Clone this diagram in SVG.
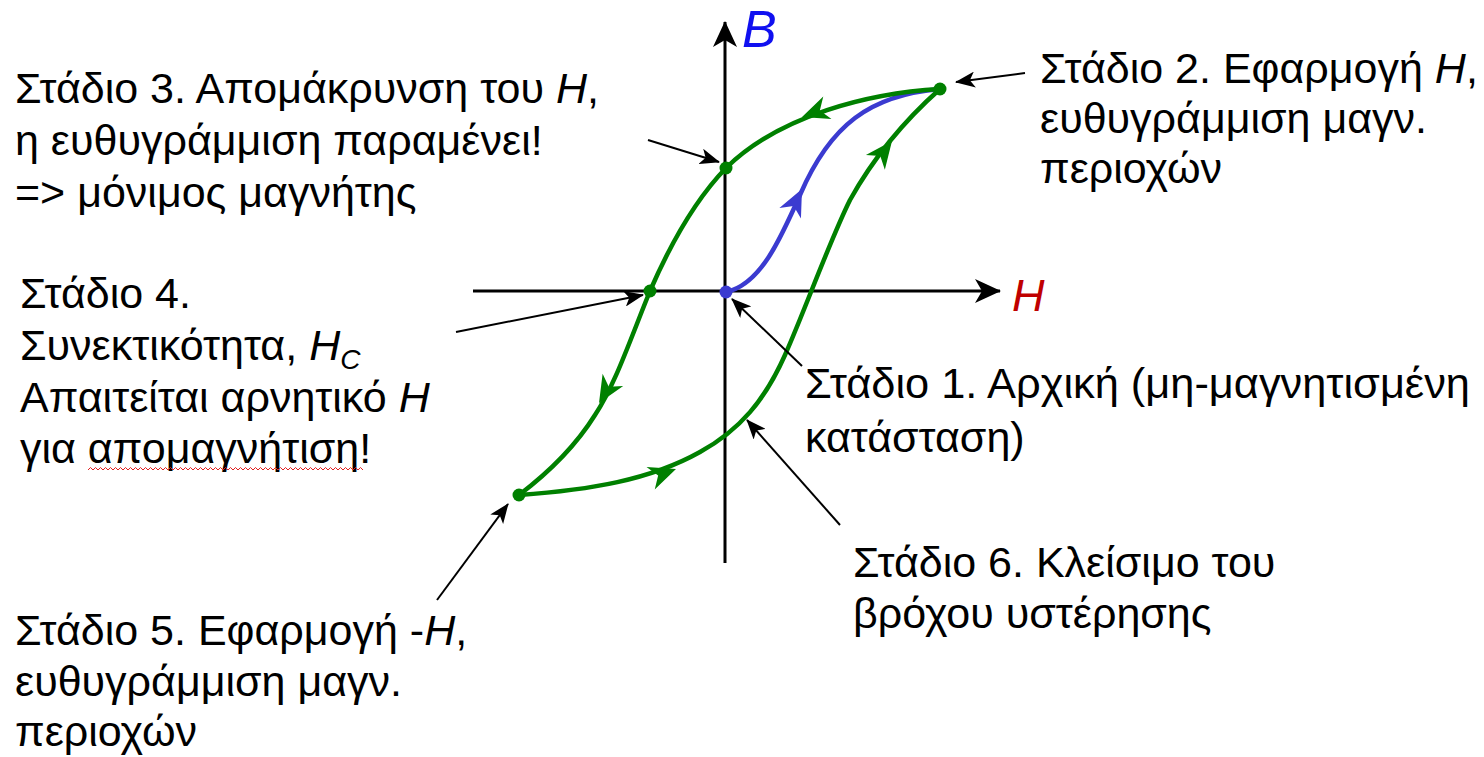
<svg xmlns="http://www.w3.org/2000/svg" width="1484" height="757" viewBox="0 0 1484 757">
<style>
text{font-family:"Liberation Sans",Arial,sans-serif;font-size:43px;fill:#000}
.it{font-style:italic}
.axis{stroke:#000;stroke-width:3;fill:none}
.ptr{stroke:#000;stroke-width:2;fill:none}
.g{stroke:#008000;stroke-width:4.5;fill:none;stroke-linecap:round}
.b{stroke:#3b3bd0;stroke-width:4.5;fill:none;stroke-linecap:round}
</style>
<defs>
<marker id="ah" viewBox="0 0 20 16" refX="19" refY="8" markerWidth="20" markerHeight="16" markerUnits="userSpaceOnUse" orient="auto">
<path d="M20,8 L0,0 L5,8 L0,16 Z" fill="#000"/>
</marker>
<marker id="axh" viewBox="0 0 26 24" refX="25" refY="12" markerWidth="26" markerHeight="24" markerUnits="userSpaceOnUse" orient="auto">
<path d="M26,12 L0,0 L7,12 L0,24 Z" fill="#000"/>
</marker>
<path id="garr" d="M0,0 L-27,-12 L-19,0 L-27,12 Z" fill="#008000"/>
<path id="barr" d="M0,0 L-27,-12 L-19,0 L-27,12 Z" fill="#3b3bd0"/>
<clipPath id="wclip"><rect x="86" y="460" width="277" height="20"/></clipPath>
</defs>

<g id="axes">
<line class="axis" x1="725" y1="563" x2="725" y2="22" marker-end="url(#axh)"/>
<line class="axis" x1="473" y1="291" x2="1000" y2="291" marker-end="url(#axh)"/>
<text x="742" y="47" class="it" style="fill:#1010f0;font-size:52px">B</text>
<text x="1012" y="311" class="it" style="fill:#c00000;font-size:45px">H</text>
</g>

<g id="curves">
<path class="b" d="M726,292 C760,285 780,240 800,195 C830,125 870,95 940,89"/>
<use href="#barr" transform="translate(802,189) rotate(-64)"/>
<path class="g" d="M940,89 C870,93 780,115 726,168 C695,200 670,245 650,291 C630,340 615,385 595,415 C575,447 548,473 519,495"/>
<path class="g" d="M519,495 C590,490 650,480 700,452 C740,430 765,400 785,355 C805,310 830,240 850,200 C875,155 905,120 940,89"/>
<use href="#garr" transform="translate(802,117) rotate(160)"/>
<use href="#garr" transform="translate(599,403) rotate(121)"/>
<use href="#garr" transform="translate(676,469) rotate(-20)"/>
<use href="#garr" transform="translate(892,141) rotate(-52)"/>
</g>

<g id="points">
<circle cx="940" cy="89" r="6.5" fill="#008000"/>
<circle cx="726" cy="168" r="6.5" fill="#008000"/>
<circle cx="650" cy="291" r="6.5" fill="#008000"/>
<circle cx="519" cy="495" r="6.5" fill="#008000"/>
<circle cx="726" cy="292" r="6.5" fill="#3b3bd0"/>
</g>

<g id="connectors">
<line class="ptr" x1="1025" y1="73" x2="956" y2="82" marker-end="url(#ah)"/>
<line class="ptr" x1="648" y1="140" x2="719" y2="162" stroke-width="1.6" marker-end="url(#ah)"/>
<line class="ptr" x1="456" y1="332" x2="643" y2="295" stroke-width="1.6" marker-end="url(#ah)"/>
<line class="ptr" x1="802" y1="366" x2="732" y2="299" marker-end="url(#ah)"/>
<line class="ptr" x1="840" y1="525" x2="747" y2="420" stroke-width="2.5" marker-end="url(#ah)"/>
<line class="ptr" x1="437" y1="600" x2="508" y2="504" stroke-width="2.5" marker-end="url(#ah)"/>
</g>

<g id="stage3">
<text x="15" y="103">Στάδιο 3. Απομάκρυνση του <tspan class="it">H</tspan>,</text>
<text x="15" y="155">η ευθυγράμμιση παραμένει!</text>
<text x="15" y="207">=&gt; μόνιμος μαγνήτης</text>
</g>

<g id="stage2">
<text x="1040" y="83">Στάδιο 2. Εφαρμογή <tspan class="it">H</tspan>,</text>
<text x="1040" y="133">ευθυγράμμιση μαγν.</text>
<text x="1040" y="183">περιοχών</text>
</g>

<g id="stage4">
<text x="20" y="308">Στάδιο 4.</text>
<text x="20" y="360">Συνεκτικότητα, <tspan class="it">H</tspan><tspan class="it" dy="9" style="font-size:28px">C</tspan></text>
<text x="20" y="412">Απαιτείται αρνητικό <tspan class="it">H</tspan></text>
<text x="20" y="463">για απομαγνήτιση!</text>
<path clip-path="url(#wclip)" d="M88,470 l2.5,-2.5 l2.5,2.5 l2.5,-2.5 l2.5,2.5 l2.5,-2.5 l2.5,2.5 l2.5,-2.5 l2.5,2.5 l2.5,-2.5 l2.5,2.5 l2.5,-2.5 l2.5,2.5 l2.5,-2.5 l2.5,2.5 l2.5,-2.5 l2.5,2.5 l2.5,-2.5 l2.5,2.5 l2.5,-2.5 l2.5,2.5 l2.5,-2.5 l2.5,2.5 l2.5,-2.5 l2.5,2.5 l2.5,-2.5 l2.5,2.5 l2.5,-2.5 l2.5,2.5 l2.5,-2.5 l2.5,2.5 l2.5,-2.5 l2.5,2.5 l2.5,-2.5 l2.5,2.5 l2.5,-2.5 l2.5,2.5 l2.5,-2.5 l2.5,2.5 l2.5,-2.5 l2.5,2.5 l2.5,-2.5 l2.5,2.5 l2.5,-2.5 l2.5,2.5 l2.5,-2.5 l2.5,2.5 l2.5,-2.5 l2.5,2.5 l2.5,-2.5 l2.5,2.5 l2.5,-2.5 l2.5,2.5 l2.5,-2.5 l2.5,2.5 l2.5,-2.5 l2.5,2.5 l2.5,-2.5 l2.5,2.5 l2.5,-2.5 l2.5,2.5 l2.5,-2.5 l2.5,2.5 l2.5,-2.5 l2.5,2.5 l2.5,-2.5 l2.5,2.5 l2.5,-2.5 l2.5,2.5 l2.5,-2.5 l2.5,2.5 l2.5,-2.5 l2.5,2.5 l2.5,-2.5 l2.5,2.5 l2.5,-2.5 l2.5,2.5 l2.5,-2.5 l2.5,2.5 l2.5,-2.5 l2.5,2.5 l2.5,-2.5 l2.5,2.5 l2.5,-2.5 l2.5,2.5 l2.5,-2.5 l2.5,2.5 l2.5,-2.5 l2.5,2.5 l2.5,-2.5 l2.5,2.5 l2.5,-2.5 l2.5,2.5 l2.5,-2.5 l2.5,2.5 l2.5,-2.5 l2.5,2.5 l2.5,-2.5 l2.5,2.5 l2.5,-2.5 l2.5,2.5 l2.5,-2.5 l2.5,2.5 l2.5,-2.5 l2.5,2.5 l2.5,-2.5 l2.5,2.5 l2.5,-2.5 l2.5,2.5 l2.5,-2.5 l2.5,2.5 l2.5,-2.5 l2.5,2.5 l2.5,-2.5 l2.5,2.5 l2.5,-2.5 l2.5,2.5 l2.5,-2.5 l2.5,2.5 l2.5,-2.5 l2.5,2.5 l2.5,-2.5 l2.5,2.5" stroke="#e02020" stroke-width="1" fill="none"/>
</g>

<g id="stage1">
<text x="805" y="398" textLength="665" lengthAdjust="spacingAndGlyphs">Στάδιο 1. Αρχική (μη-μαγνητισμένη</text>
<text x="805" y="452">κατάσταση)</text>
</g>

<g id="stage6">
<text x="853" y="577">Στάδιο 6. Κλείσιμο του</text>
<text x="853" y="628">βρόχου υστέρησης</text>
</g>

<g id="stage5">
<text x="15" y="645">Στάδιο 5. Εφαρμογή -<tspan class="it">H</tspan>,</text>
<text x="15" y="696">ευθυγράμμιση μαγν.</text>
<text x="15" y="746">περιοχών</text>
</g>
</svg>
